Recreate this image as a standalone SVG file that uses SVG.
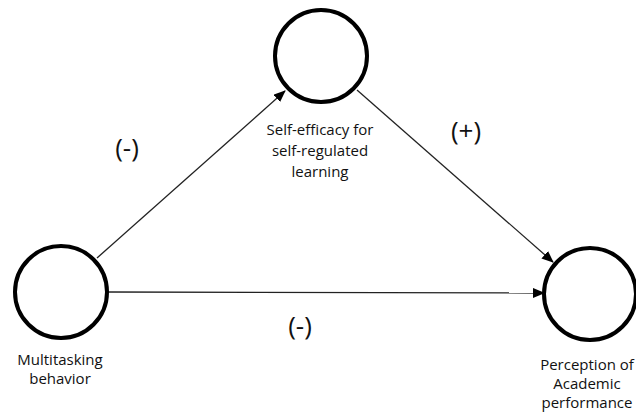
<svg xmlns="http://www.w3.org/2000/svg" width="636" height="412" viewBox="0 0 636 412">
<style>
.node{fill:#fff;stroke:#000;stroke-width:4}
.lbl{font-family:"Open Sans","Noto Sans",sans-serif;font-size:15px;fill:#111;text-anchor:middle}
.sign{font-family:"Open Sans","Noto Sans",sans-serif;font-size:26px;fill:#111;text-anchor:middle}
.edge{stroke:#222;stroke-width:1.3;fill:none;marker-end:url(#ah)}
</style>
<defs>
<marker id="ah" viewBox="0 0 12 10" refX="11" refY="5" markerWidth="12" markerHeight="10" markerUnits="userSpaceOnUse" orient="auto">
<path d="M0,0 L12,5 L0,10 Z" fill="#000"/>
</marker>
</defs>
<rect width="636" height="412" fill="#fff"/>
<g id="connectors">
<line class="edge" x1="97" y1="258" x2="285" y2="91"/>
<line class="edge" x1="357" y1="90" x2="553" y2="262"/>
<line class="edge" x1="108" y1="292" x2="544" y2="293"/>
</g>
<g id="self-efficacy">
<circle class="node" cx="321" cy="56" r="46"/>
<text class="lbl" x="320" y="135">Self-efficacy for</text>
<text class="lbl" x="320" y="156">self-regulated</text>
<text class="lbl" x="320" y="177">learning</text>
</g>
<g id="multitasking">
<circle class="node" cx="61" cy="292" r="46"/>
<text class="lbl" x="60" y="365">Multitasking</text>
<text class="lbl" x="60" y="384">behavior</text>
</g>
<g id="performance">
<circle class="node" cx="590" cy="294" r="46"/>
<text class="lbl" x="587" y="370">Perception of</text>
<text class="lbl" x="587" y="389">Academic</text>
<text class="lbl" x="587" y="408">performance</text>
</g>
<g id="signs">
<text class="sign" x="127" y="157">(-)</text>
<text class="sign" x="466" y="140">(+)</text>
<text class="sign" x="300" y="335">(-)</text>
</g>
</svg>
